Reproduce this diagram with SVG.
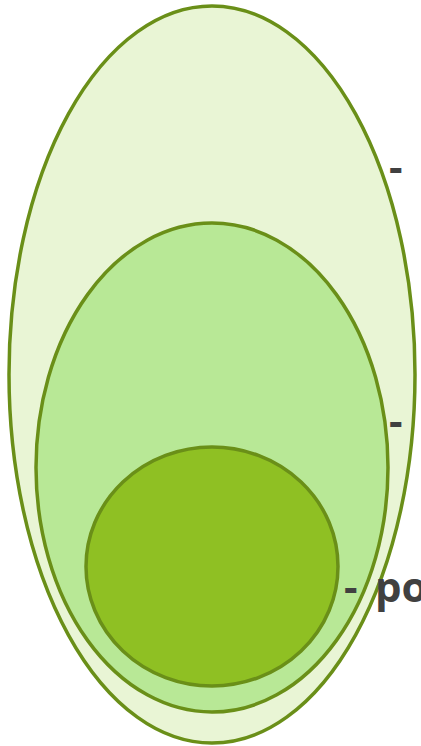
<svg xmlns="http://www.w3.org/2000/svg" width="421" height="746" viewBox="0 0 421 746">
<style>
.e{stroke:#6a8f18;stroke-width:3.5}
.t{font-family:"Open Sans","Liberation Sans",sans-serif;font-weight:700;font-size:42px;fill:#404040}
</style>
<rect width="421" height="746" fill="#ffffff"/>
<g id="outer"><ellipse class="e" cx="212" cy="374.5" rx="203" ry="368.5" fill="#e9f5d5"/></g>
<g id="middle"><ellipse class="e" cx="212" cy="467.5" rx="176" ry="244.5" fill="#b8e896"/></g>
<g id="inner"><ellipse class="e" cx="212" cy="566.5" rx="126" ry="119.5" fill="#8fc023"/></g>
<g id="labels">
<text class="t" x="389" y="182">-</text>
<text class="t" x="389" y="436">-</text>
<text class="t" x="344" y="602">-<tspan x="375">po</tspan></text>
</g>
</svg>
